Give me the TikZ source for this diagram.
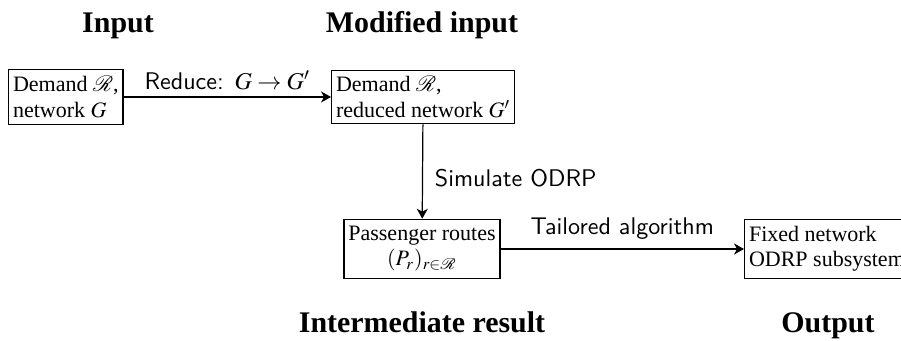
\documentclass[tikz,border=0pt]{standalone}
\usepackage{mathptmx}
\usepackage{mathrsfs}
\usepackage{fontspec}
\setmainfont{Liberation Serif}
\usetikzlibrary{arrows.meta}
\begin{document}
\begin{tikzpicture}[x=0.4545pt,y=-0.4545pt,
  stagebox/.style={draw,line width=0.55pt,inner xsep=2pt,inner ysep=1pt,
    font=\fontsize{10}{11.4}\selectfont},
  stagetitle/.style={anchor=base,font=\fontsize{13.6}{16}\selectfont\bfseries},
  steplabel/.style={font=\fontsize{10.95}{13}\selectfont\sffamily},
  flow/.style={line width=0.55pt,-{Stealth[length=4.5pt,width=5pt,inset=1.3pt]}}]
\useasboundingbox (0,0) rectangle (901,341);

% stage headings
\node[stagetitle] (tIn)  at (118,33)  {Input};
\node[stagetitle] (tMod) at (422,33)  {Modified input};
\node[stagetitle] (tInt) at (422,333) {Intermediate result};
\node[stagetitle] (tOut) at (828,333) {Output};

% stages
\node[stagebox,align=left,anchor=west,minimum height=25pt] (b1) at (8,97)
  {Demand $\mathscr{R}$,\\network $G$};
\node[stagebox,align=left,anchor=west,minimum height=24.3pt] (b2) at (331,97)
  {Demand $\mathscr{R}$,\\reduced network $G'$};
\node[stagebox,align=center,minimum height=27pt] (b3) at (422,249)
  {Passenger routes\\$(P_r)_{r\in\mathscr{R}}$};
\node[stagebox,align=left,anchor=west,minimum height=27pt] (b4) at (744,249)
  {Fixed network\\ODRP subsystem};

% transitions
\draw[flow] (b1) -- node[steplabel,above=-0.5pt] {Reduce: $G\rightarrow G'$} (b2);
\draw[flow] (b2) -- node[steplabel,right=2pt,yshift=-3pt] {Simulate ODRP} (b3);
\draw[flow] (b3) -- node[steplabel,above=0.5pt] {Tailored algorithm} (b4);
\end{tikzpicture}
\end{document}
